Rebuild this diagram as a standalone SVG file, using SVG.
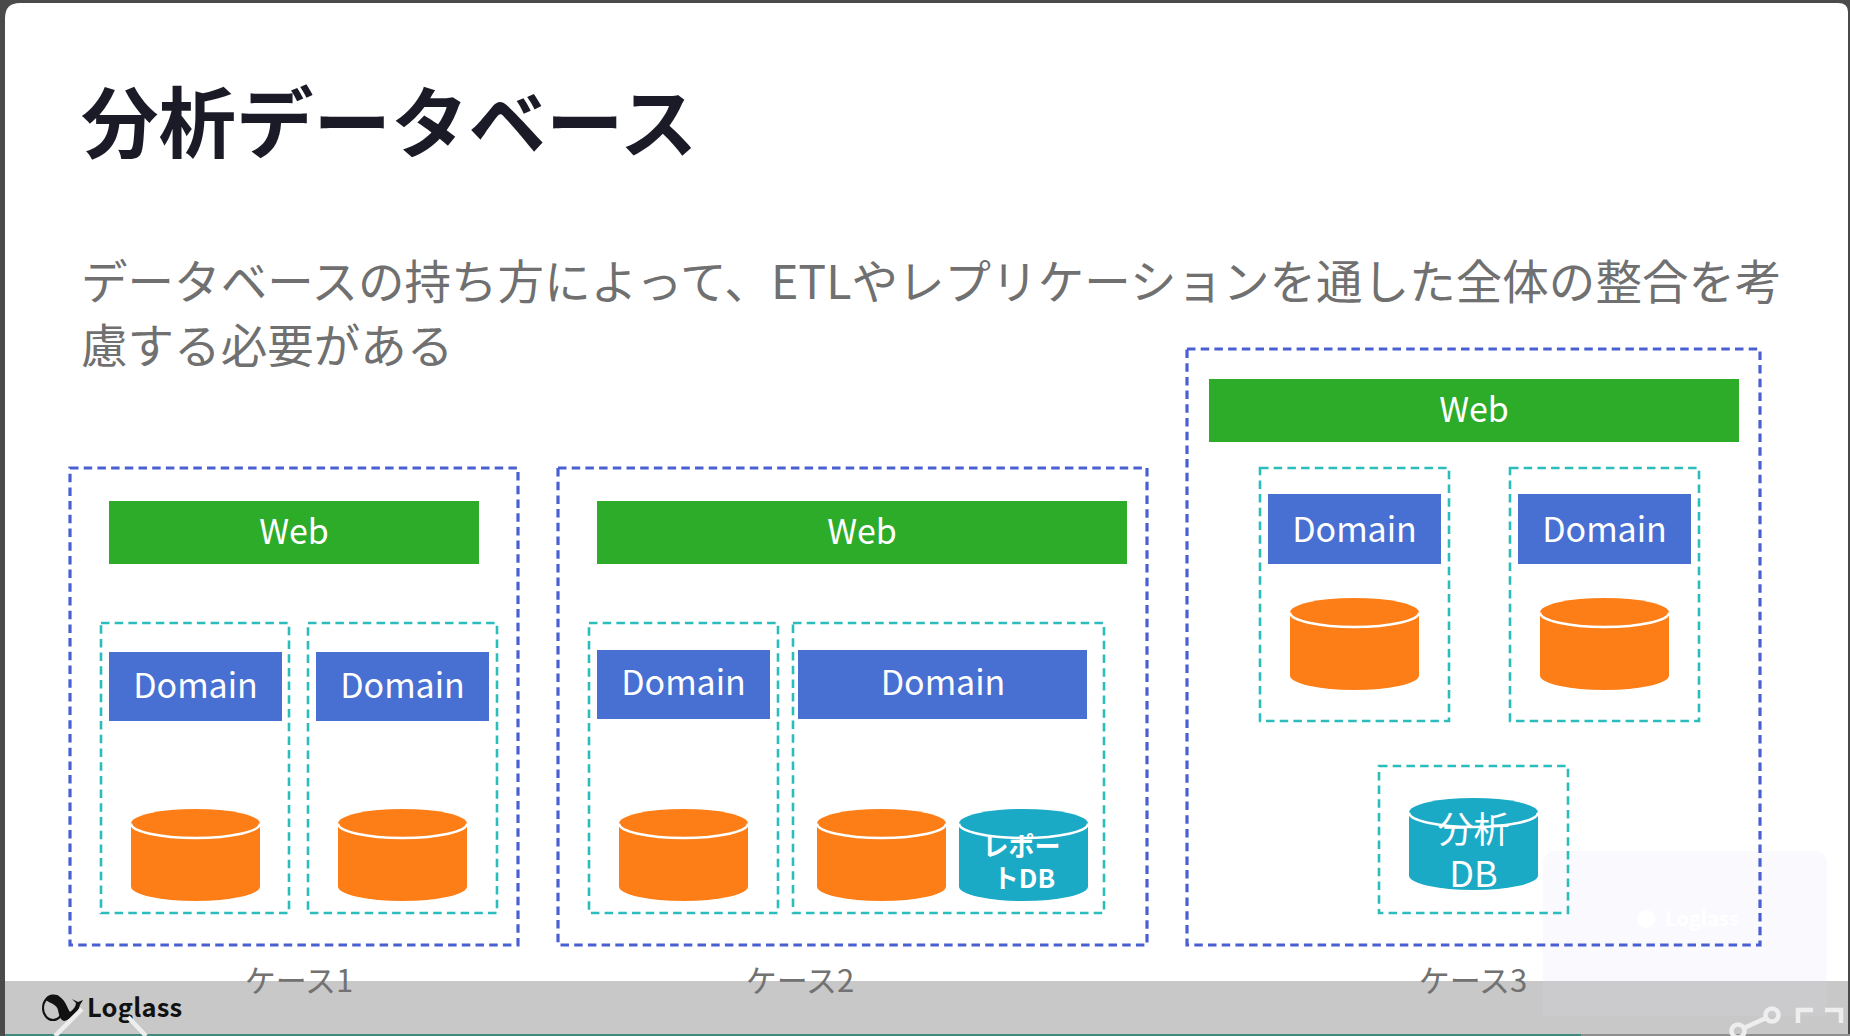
<svg xmlns="http://www.w3.org/2000/svg" width="1850" height="1036" viewBox="0 0 1850 1036">
<style>
text{font-family:"Noto Sans CJK JP","Noto Sans",sans-serif}
.outer{fill:none;stroke:#4a60d2;stroke-width:3.2;stroke-dasharray:8.5 5.2}
.inner{fill:none;stroke:#2bbcbc;stroke-width:2.6;stroke-dasharray:8.5 5.2}
.web{fill:#2cac28}
.dom{fill:#4870d3}
.lbl{fill:#fff;font-size:34px;text-anchor:middle;font-weight:400}
.cap{fill:#727272;font-size:31px;text-anchor:middle;font-weight:400}
.sub{fill:#707070;font-size:46.5px;font-weight:400;letter-spacing:.05px}
.rim{fill:none;stroke:#fff;stroke-width:2.6}
.icon{fill:none;stroke:#eeeeee;stroke-width:4.5}
</style>
<defs>
<g id="cyl-o"><path d="M-64.500 -31.500V31.500A64.500 14.500 0 0 0 64.500 31.500V-31.500A64.500 14.500 0 0 0 -64.500 -31.500Z" fill="#fd7e17"/><path class="rim" d="M-64.500 -31.500A64.500 14.500 0 0 0 64.500 -31.500"/></g>
<g id="cyl-t"><path d="M-64.500 -31.500V31.500A64.500 14.500 0 0 0 64.500 31.500V-31.500A64.500 14.500 0 0 0 -64.500 -31.500Z" fill="#1baac5"/><path class="rim" d="M-64.500 -31.500A64.500 14.500 0 0 0 64.500 -31.500"/></g>
</defs>
<rect width="1850" height="1036" fill="#4a4a4a"/>
<path d="M5 1036V18Q5 3 20 3H1838Q1848 3 1848 12V1036Z" fill="#ffffff"/>
<text x="81" y="152" font-size="77.500" font-weight="700" fill="#1b1b28" id="title">分析データベース</text>
<text class="sub" x="81" y="299">データベースの持ち方によって、ETLやレプリケーションを通した全体の整合を考</text>
<text class="sub" x="81" y="363">慮する必要がある</text>
<rect x="1543" y="851" width="284" height="165" rx="12" fill="#fafafe"/>
<g id="watermark"><circle cx="1646" cy="919" r="9" fill="#ffffff"/><text x="1665" y="926" font-size="20" font-weight="700" fill="#ffffff" font-family="Noto Sans">Loglass</text></g>
<g id="case1">
<rect class="outer" x="70" y="468" width="448" height="477"/>
<g id="c1-web"><rect class="web" x="109" y="501" width="370" height="63"/><text class="lbl" x="294" y="544">Web</text></g>
<g id="c1-a"><rect class="inner" x="101" y="623" width="188" height="290"/><rect class="dom" x="109" y="652" width="173" height="69"/><text class="lbl" x="195.500" y="698">Domain</text><use href="#cyl-o" x="195.500" y="855"/></g>
<g id="c1-b"><rect class="inner" x="308" y="623" width="189" height="290"/><rect class="dom" x="316" y="652" width="173" height="69"/><text class="lbl" x="402.500" y="698">Domain</text><use href="#cyl-o" x="402.500" y="855"/></g>
</g>
<g id="case2">
<rect class="outer" x="558" y="468" width="589" height="477"/>
<g id="c2-web"><rect class="web" x="597" y="501" width="530" height="63"/><text class="lbl" x="862" y="544">Web</text></g>
<g id="c2-a"><rect class="inner" x="589" y="623" width="189" height="290"/><rect class="dom" x="597" y="650" width="173" height="69"/><text class="lbl" x="683.500" y="695">Domain</text><use href="#cyl-o" x="683.500" y="855"/></g>
<g id="c2-b"><rect class="inner" x="793" y="623" width="311" height="290"/><rect class="dom" x="798" y="650" width="289" height="69"/><text class="lbl" x="943" y="695">Domain</text><use href="#cyl-o" x="881.500" y="855"/><use href="#cyl-t" x="1023.500" y="855"/><text font-size="26" font-weight="700" fill="#fff" text-anchor="middle"><tspan x="1021.500" y="856">レポー</tspan><tspan x="1024" y="888">トDB</tspan></text></g>
</g>
<g id="case3">
<rect class="outer" x="1187" y="349" width="573" height="596"/>
<g id="c3-web"><rect class="web" x="1209" y="379" width="530" height="63"/><text class="lbl" x="1474" y="422">Web</text></g>
<g id="c3-a"><rect class="inner" x="1260" y="468" width="189" height="253"/><rect class="dom" x="1268" y="494" width="173" height="70"/><text class="lbl" x="1354.500" y="542">Domain</text><use href="#cyl-o" x="1354.500" y="644"/></g>
<g id="c3-b"><rect class="inner" x="1510" y="468" width="189" height="253"/><rect class="dom" x="1518" y="494" width="173" height="70"/><text class="lbl" x="1604.500" y="542">Domain</text><use href="#cyl-o" x="1604.500" y="644"/></g>
<g id="c3-c"><rect class="inner" x="1379" y="766" width="189" height="147"/><use href="#cyl-t" x="1473.500" y="844"/><text class="lbl" style="font-size:36px"><tspan x="1473.500" y="843">分析</tspan><tspan x="1473.500" y="887">DB</tspan></text></g>
</g>
<g id="footer">
<rect x="5" y="981" width="1843" height="55" fill="#c8c8c8"/>
<rect x="1543" y="981" width="284" height="35" fill="#cbcbcd"/>
<rect x="5" y="1034" width="1845" height="2" fill="#8e8e8e"/>
<rect x="5" y="1034" width="1576" height="2" fill="#3f8a7c"/>
</g>
<text class="cap" x="299" y="992">ケース1</text>
<text class="cap" x="800" y="992">ケース2</text>
<text class="cap" x="1473" y="992">ケース3</text>
<g id="logo">
<ellipse cx="53" cy="1008" rx="10" ry="12" fill="none" stroke="#111" stroke-width="2"/>
<path d="M45 1000C47 994 56 993 60 997C66 1001 67 1008 70 1012C74 1009 76 1006 76 1003L72 999L78 1002L83 1000L80 1005C78 1013 72 1019 64 1021C60 1020 59 1015 58 1010C57 1005 51 1003 45 1000Z" fill="#111"/>
<text x="87" y="1017" font-size="25.500" font-weight="700" fill="#111" font-family="Noto Sans" letter-spacing=".2">Loglass</text>
</g>
<path class="icon" d="M55 1036L82 1009M146 1036L128 1017"/>
<g id="controls" class="icon">
<circle cx="1772" cy="1015" r="6.500"/><circle cx="1738" cy="1031" r="6.500"/><path d="M1744 1028L1766 1018"/>
<path d="M1798 1023V1010H1813M1825 1010H1841V1023"/>
</g>
</svg>
